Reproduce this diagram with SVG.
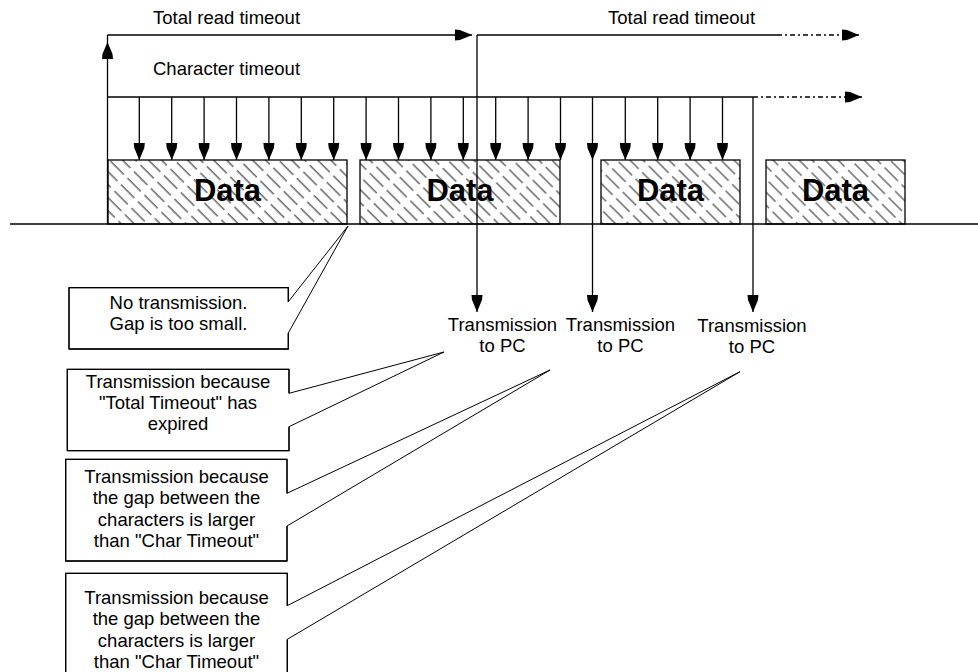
<svg xmlns="http://www.w3.org/2000/svg" width="978" height="672" viewBox="0 0 978 672">
<style>
.ln{stroke:#000;stroke-width:1.3;fill:none}
.dd{stroke:#000;stroke-width:1.3;fill:none;stroke-dasharray:5 3 2 3}
.ptr{stroke:#000;stroke-width:1;fill:#fff}
.box{stroke:#000;stroke-width:1.3;fill:url(#hatch)}
.t{font-family:"Liberation Sans",Arial,sans-serif;font-size:18.5px;fill:#000}
.c{text-anchor:middle}
.data{font-family:"Liberation Sans",Arial,sans-serif;font-size:31px;font-weight:bold;fill:#000;text-anchor:middle}
</style>
<defs>
<pattern id="hatch" patternUnits="userSpaceOnUse" width="9.2" height="24" patternTransform="rotate(-45)">
<line x1="1" y1="0" x2="1" y2="19" stroke="#000" stroke-width="0.9"/>
</pattern>
<marker id="ah" markerUnits="userSpaceOnUse" viewBox="0 0 17 12" refX="17" refY="6" markerWidth="17" markerHeight="12" orient="auto">
<path d="M0,0.5 L5,1 L17,6 L5,11 L0,11.5 Z" fill="#000"/>
</marker>
</defs>
<rect width="978" height="672" fill="#fff"/>

<g id="data1"><rect class="box" x="108" y="160" width="239" height="64"/><text class="data" x="227.5" y="201">Data</text></g>
<g id="data2"><rect class="box" x="360" y="160" width="200" height="64"/><text class="data" x="460" y="201">Data</text></g>
<g id="data3"><rect class="box" x="601" y="160" width="139" height="64"/><text class="data" x="670.5" y="201">Data</text></g>
<g id="data4"><rect class="box" x="766" y="160" width="139" height="64"/><text class="data" x="835.5" y="201">Data</text></g>

<g id="connectors">
<line class="ln" x1="10" y1="224" x2="978" y2="224"/>
<line class="ln" x1="107.5" y1="224" x2="107.5" y2="42" marker-end="url(#ah)"/>
<line class="ln" x1="107.5" y1="42" x2="107.5" y2="35"/>
<line class="ln" x1="107.5" y1="35" x2="472" y2="35" marker-end="url(#ah)"/>
<line class="ln" x1="477" y1="35" x2="777" y2="35"/>
<line class="dd" x1="777" y1="35" x2="859" y2="35" marker-end="url(#ah)"/>
<line class="ln" x1="477" y1="35" x2="477" y2="312" marker-end="url(#ah)"/>
<line class="ln" x1="107.5" y1="97" x2="753" y2="97"/>
<line class="dd" x1="753" y1="97" x2="862" y2="97" marker-end="url(#ah)"/>
<line class="ln" x1="753" y1="97" x2="753" y2="312" marker-end="url(#ah)"/>
<g class="ln" marker-end="url(#ah)">
<line x1="139.3" y1="97" x2="139.3" y2="160"/>
<line x1="171.7" y1="97" x2="171.7" y2="160"/>
<line x1="204.1" y1="97" x2="204.1" y2="160"/>
<line x1="236.5" y1="97" x2="236.5" y2="160"/>
<line x1="268.9" y1="97" x2="268.9" y2="160"/>
<line x1="301.3" y1="97" x2="301.3" y2="160"/>
<line x1="333.7" y1="97" x2="333.7" y2="160"/>
<line x1="366.1" y1="97" x2="366.1" y2="160"/>
<line x1="398.5" y1="97" x2="398.5" y2="160"/>
<line x1="430.9" y1="97" x2="430.9" y2="160"/>
<line x1="463.3" y1="97" x2="463.3" y2="160"/>
<line x1="495.7" y1="97" x2="495.7" y2="160"/>
<line x1="528.1" y1="97" x2="528.1" y2="160"/>
<line x1="560.5" y1="97" x2="560.5" y2="160"/>
<line x1="592.5" y1="97" x2="592.5" y2="160"/>
<line x1="625.3" y1="97" x2="625.3" y2="160"/>
<line x1="657.7" y1="97" x2="657.7" y2="160"/>
<line x1="690.1" y1="97" x2="690.1" y2="160"/>
<line x1="722.5" y1="97" x2="722.5" y2="160"/>
</g>
<line class="ln" x1="592.5" y1="160" x2="592.5" y2="312" marker-end="url(#ah)"/>
</g>

<g id="labels-top">
<text class="t" x="153" y="24">Total read timeout</text>
<text class="t" x="608" y="24">Total read timeout</text>
<text class="t" x="153" y="75">Character timeout</text>
</g>

<g id="callout-a">
<path class="ptr" d="M69,287.7 H288.3 V301.7 L348,226 L288.3,333 V349 H69 Z"/>
<path class="ln" d="M288.3,301.7 V287.7 H69 V349 H288.3 V333"/>
<text class="t c" x="178.5" y="309">No transmission.</text>
<text class="t c" x="178.5" y="330">Gap is too small.</text>
</g>
<g id="callout-b">
<path class="ptr" d="M67.3,369.3 H289 V393.3 L444,352 L289,426.7 V450.7 H67.3 Z"/>
<path class="ln" d="M289,393.3 V369.3 H67.3 V450.7 H289 V426.7"/>
<text class="t c" x="178" y="388">Transmission because</text>
<text class="t c" x="178" y="409">"Total Timeout" has</text>
<text class="t c" x="178" y="430">expired</text>
</g>
<g id="callout-c">
<path class="ptr" d="M65.7,459.3 H287 V493.3 L550,370 L287,526 V561 H65.7 Z"/>
<path class="ln" d="M287,493.3 V459.3 H65.7 V561 H287 V526"/>
<text class="t c" x="176.5" y="482.5">Transmission because</text>
<text class="t c" x="176.5" y="504">the gap between the</text>
<text class="t c" x="176.5" y="525.5">characters is larger</text>
<text class="t c" x="176.5" y="547">than "Char Timeout"</text>
</g>
<g id="callout-d">
<path class="ptr" d="M65.7,573.3 H287.3 V605.7 L740,371.7 L287.3,639.3 V690 H65.7 Z"/>
<path class="ln" d="M287.3,605.7 V573.3 H65.7 V690 H287.3 V639.3"/>
<text class="t c" x="176.5" y="603.5">Transmission because</text>
<text class="t c" x="176.5" y="625">the gap between the</text>
<text class="t c" x="176.5" y="646.5">characters is larger</text>
<text class="t c" x="176.5" y="668">than "Char Timeout"</text>
</g>

<g id="tx1"><text class="t c" x="502.5" y="331">Transmission</text><text class="t c" x="502.5" y="352">to PC</text></g>
<g id="tx2"><text class="t c" x="620.5" y="331">Transmission</text><text class="t c" x="620.5" y="352">to PC</text></g>
<g id="tx3"><text class="t c" x="752" y="332">Transmission</text><text class="t c" x="752" y="353">to PC</text></g>
</svg>
